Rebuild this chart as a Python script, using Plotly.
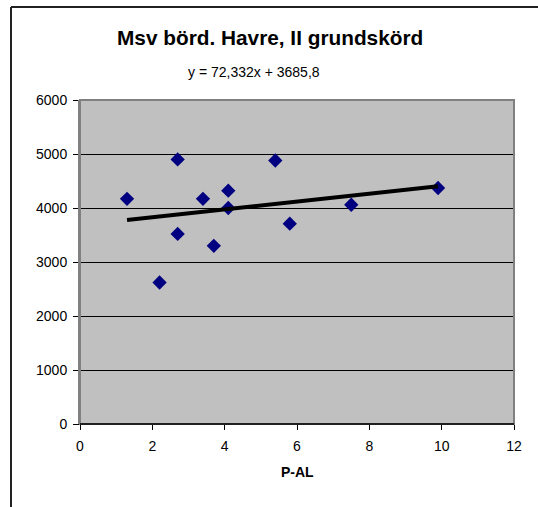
import plotly.graph_objects as go

p_al = [1.3, 2.7, 2.7, 2.2, 3.4, 3.7, 4.1, 4.1, 5.4, 5.8, 7.5, 9.9]
yield_vals = [4170, 4900, 3520, 2620, 4170, 3300, 4320, 4000, 4880, 3710, 4060, 4370]
slope = 72.332
intercept = 3685.8
title_text = "Msv börd. Havre, II grundskörd"
eq_text = "y = 72,332x + 3685,8"
x_title = "P-AL"
x_ticks = [0, 2, 4, 6, 8, 10, 12]
y_ticks = [0, 1000, 2000, 3000, 4000, 5000, 6000]

trend_x = [min(p_al), max(p_al)]
trend_y = [intercept + slope * v for v in trend_x]

W, H = 538, 507
ml, mr, mt, mb = 80, 24, 100, 83
pw, ph = W - ml - mr, H - mt - mb

def px2x(px):
    return (px - ml) / pw

def py2y(py):
    return (H - mb - py) / ph

fig = go.Figure()
fig.add_trace(go.Scatter(x=p_al, y=yield_vals, mode="markers",
                         marker=dict(symbol="diamond", size=11, color="#000080",
                                     line=dict(width=0)),
                         showlegend=False, cliponaxis=False))
fig.add_trace(go.Scatter(x=trend_x, y=trend_y, mode="lines",
                         line=dict(color="black", width=4), showlegend=False))

font = "Liberation Sans, Arial, sans-serif"
fig.update_layout(
    width=W, height=H,
    margin=dict(l=ml, r=mr, t=mt, b=mb),
    paper_bgcolor="white", plot_bgcolor="#C0C0C0",
    font=dict(family=font, size=14, color="black"),
    xaxis=dict(range=[0, 12], tickvals=x_ticks, ticks="outside", ticklen=5,
               tickcolor="black", showgrid=False, zeroline=False,
               showline=True, linecolor="black", linewidth=1,
               ticklabelstandoff=4,
               tickfont=dict(size=14), fixedrange=True),
    yaxis=dict(range=[0, 6000], tickvals=y_ticks, ticks="outside", ticklen=5,
               tickcolor="black", showgrid=True, gridcolor="black", gridwidth=1,
               zeroline=False, showline=True, linecolor="#808080", linewidth=2,
               ticklabelstandoff=3,
               tickfont=dict(size=14), fixedrange=True),
    shapes=[
        dict(type="rect", xref="paper", yref="paper", x0=0, x1=1, y0=0, y1=1,
             line=dict(color="#808080", width=2), layer="above"),
        dict(type="line", xref="paper", yref="paper", x0=0, x1=1, y0=0, y1=0,
             line=dict(color="black", width=1.5), layer="above"),
        dict(type="line", xref="paper", yref="paper",
             x0=px2x(11), x1=px2x(11), y0=py2y(7), y1=py2y(507),
             line=dict(color="#222222", width=2)),
        dict(type="line", xref="paper", yref="paper",
             x0=px2x(11), x1=px2x(538), y0=py2y(7), y1=py2y(7),
             line=dict(color="#222222", width=2)),
    ],
    annotations=[
        dict(text="<b>" + title_text + "</b>", xref="paper", yref="paper",
             x=px2x(270), y=py2y(37), showarrow=False,
             font=dict(size=20.8, family=font), xanchor="center", yanchor="middle"),
        dict(text=eq_text, xref="paper", yref="paper",
             x=px2x(254), y=py2y(72), showarrow=False,
             font=dict(size=14, family=font), xanchor="center", yanchor="middle"),
        dict(text="<b>" + x_title + "</b>", xref="paper", yref="paper",
             x=px2x(297), y=py2y(472), showarrow=False,
             font=dict(size=14, family=font), xanchor="center", yanchor="middle"),
    ],
)

fig.write_html("out.html", config={"displayModeBar": False},
               post_script="document.body.style.margin='0';document.body.style.overflow='hidden';"
                           "document.documentElement.style.overflow='hidden';")
